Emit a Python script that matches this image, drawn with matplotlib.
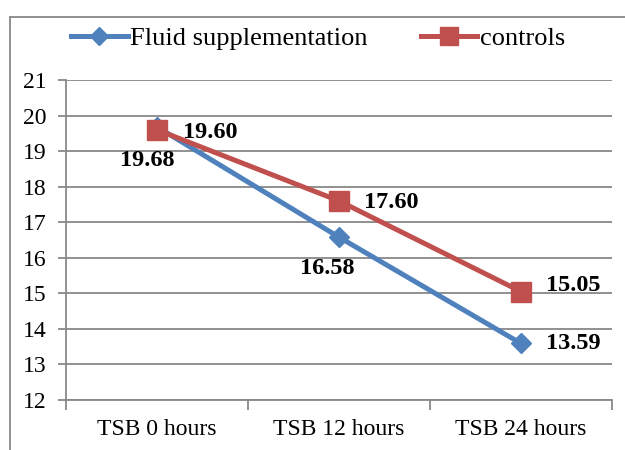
import matplotlib.pyplot as plt
from matplotlib.lines import Line2D

categories = ["TSB 0 hours", "TSB 12 hours", "TSB 24 hours"]
fluid = [19.68, 16.58, 13.59]
controls = [19.60, 17.60, 15.05]

plt.rcParams["font.family"] = ["Liberation Serif", "DejaVu Serif"]

fig = plt.figure(figsize=(6.25, 4.5), dpi=100)
ax = fig.add_axes([66 / 625, 1 - 400 / 450, 546 / 625, 320 / 450])

x = range(len(categories))
ax.plot(x, fluid, color="#4F81BD", lw=3.6, marker="D", ms=10, label="Fluid supplementation", zorder=3)
ax.plot(x, controls, color="#C0504D", lw=3.6, marker="s", ms=14, label="controls", zorder=4)

# data labels
lab = dict(fontsize=17.5, fontweight="bold", color="black")
fluid_off = [(-10, -34), (-12, -31), (52, 0)]
ctrl_off = [(53, -3), (52, -2), (52, 6)]
for i, (v, off) in enumerate(zip(fluid, fluid_off)):
    ax.annotate(f"{v:.2f}", (i, v), xytext=off, textcoords="offset pixels",
                ha="center", va="center", **lab)
for i, (v, off) in enumerate(zip(controls, ctrl_off)):
    ax.annotate(f"{v:.2f}", (i, v), xytext=off, textcoords="offset pixels",
                ha="center", va="center", **lab)

ax.set_xlim(-0.5, 2.5)
ax.set_ylim(12, 21)
ax.set_yticks(range(12, 22))
ax.set_xticks(list(x))
ax.set_xticklabels(categories)
ax.set_xticks([-0.5, 0.5, 1.5, 2.5], minor=True)
ax.tick_params(axis="x", which="major", length=0, labelsize=17, pad=14)
ax.tick_params(axis="x", which="minor", length=7, color="#888888", width=1.3)
ax.tick_params(axis="y", length=6, color="#888888", width=1.3, labelsize=17, pad=8)
ax.grid(axis="y", color="#888888", lw=1.3)
ax.set_axisbelow(True)
for s in ["top", "right"]:
    ax.spines[s].set_visible(False)
for s in ["left", "bottom"]:
    ax.spines[s].set_color("#888888")
    ax.spines[s].set_linewidth(1.3)

ax.legend(loc="center", bbox_to_anchor=(318 / 625, 1 - 38 / 450), bbox_transform=fig.transFigure,
          ncol=2, frameon=False, fontsize=19, handlelength=2.15, handletextpad=0.1,
          columnspacing=2.0, borderaxespad=0, markerscale=0.9)

# outer chart frame
fig.add_artist(Line2D([10 / 625, 10 / 625], [0, 1 - 17 / 450], transform=fig.transFigure,
                      color="#888888", lw=1.3))
fig.add_artist(Line2D([10 / 625, 1], [1 - 17 / 450, 1 - 17 / 450], transform=fig.transFigure,
                      color="#888888", lw=1.3))

fig.savefig("out.png", dpi=100)
